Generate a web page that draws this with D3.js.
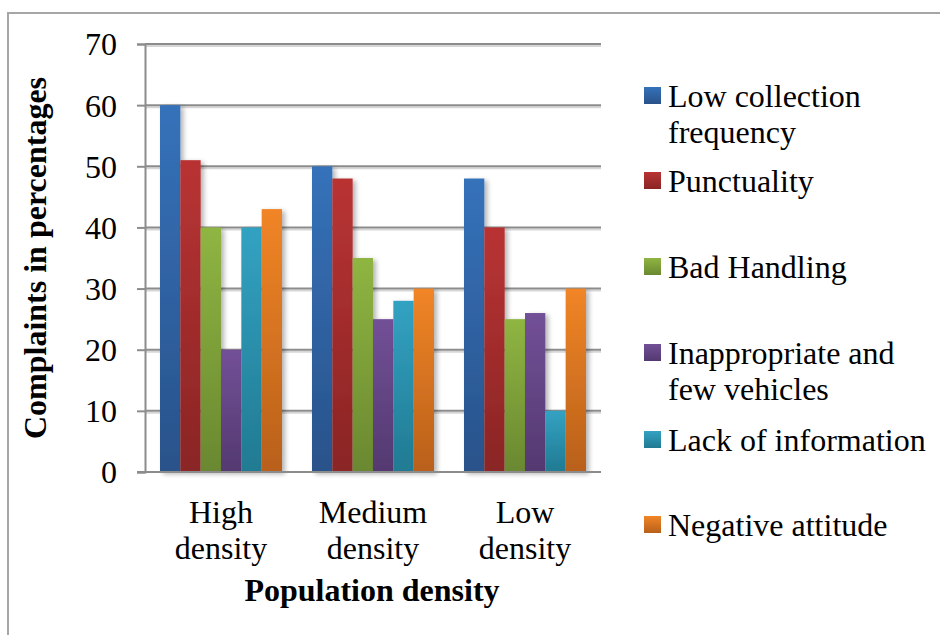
<!DOCTYPE html>
<html>
<head>
<meta charset="utf-8">
<script src="https://cdn.jsdelivr.net/npm/d3@7"></script>
<style>
  html, body { margin: 0; padding: 0; background: #fff; }
  svg { display: block; }
</style>
</head>
<body>
<svg id="chart" width="940" height="635"></svg>
<script>
// Complaint shares (%) by population density
const categories = [["High", "density"], ["Medium", "density"], ["Low", "density"]];
const seriesNames = [
  ["Low collection", "frequency"],
  ["Punctuality"],
  ["Bad Handling"],
  ["Inappropriate and", "few vehicles"],
  ["Lack of information"],
  ["Negative attitude"]
];
const lowCollection = [60, 50, 48];
const punctuality = [51, 48, 40];
const badHandling = [40, 35, 25];
const inappropriateVehicles = [20, 25, 26];
const lackOfInformation = [40, 28, 10];
const negativeAttitude = [43, 30, 30];
const yTicks = [0, 10, 20, 30, 40, 50, 60, 70];

const seriesValues = [lowCollection, punctuality, badHandling, inappropriateVehicles, lackOfInformation, negativeAttitude];
const colors = [
  ["#3572ba", "#29528a"],
  ["#b93333", "#8a2525"],
  ["#8fb542", "#6a8830"],
  ["#725097", "#533970"],
  ["#33a2c2", "#217a92"],
  ["#f18526", "#b8601b"]
];
const FONT = "Liberation Serif";
const FS = 32;

const svg = d3.select("#chart");
const defs = svg.append("defs");

colors.forEach((c, i) => {
  const g = defs.append("linearGradient").attr("id", "grad" + i)
    .attr("x1", 0).attr("y1", 0).attr("x2", 0).attr("y2", 1);
  g.append("stop").attr("offset", "0%").attr("stop-color", c[0]);
  g.append("stop").attr("offset", "100%").attr("stop-color", c[1]);
});

const shadow = defs.append("filter").attr("id", "shadow")
  .attr("x", "-20%").attr("y", "-5%").attr("width", "160%").attr("height", "115%");
shadow.append("feGaussianBlur").attr("in", "SourceAlpha").attr("stdDeviation", 2.5).attr("result", "b");
shadow.append("feOffset").attr("in", "b").attr("dx", 3).attr("dy", 2).attr("result", "o");
shadow.append("feComponentTransfer").attr("in", "o").attr("result", "s")
  .append("feFuncA").attr("type", "linear").attr("slope", 0.3);
const merge = shadow.append("feMerge");
merge.append("feMergeNode").attr("in", "s");
merge.append("feMergeNode").attr("in", "SourceGraphic");

// Outer frame
svg.append("path")
  .attr("d", "M8,640 L8,13 L945,13")
  .attr("fill", "none").attr("stroke", "#a6a6a6").attr("stroke-width", 2);

const plot = { left: 145, right: 601, top: 44, bottom: 472 };

const y = d3.scaleLinear().domain([0, 70]).range([plot.bottom, plot.top]);
const x0 = d3.scaleBand().domain(d3.range(categories.length)).range([plot.left, plot.right]).paddingInner(0).paddingOuter(0);
const x1 = d3.scaleBand().domain(d3.range(seriesNames.length)).range([15, x0.bandwidth() - 15]).padding(0);

// Gridlines
const grid = svg.append("g");
yTicks.filter(t => t > 0).forEach(t => {
  grid.append("line").attr("x1", plot.left).attr("x2", plot.right)
    .attr("y1", y(t) + 2).attr("y2", y(t) + 2)
    .attr("stroke", "#d6d6d6").attr("stroke-width", 2);
  grid.append("line").attr("x1", plot.left).attr("x2", plot.right)
    .attr("y1", y(t)).attr("y2", y(t))
    .attr("stroke", "#8c8c8c").attr("stroke-width", 2);
});

// Y axis
const yAxis = d3.axisLeft(y).tickValues(yTicks).tickSize(8).tickPadding(20).tickFormat(d3.format("d"));
const yg = svg.append("g").attr("transform", `translate(${plot.left},0)`).call(yAxis)
  .attr("font-family", FONT).attr("font-size", FS);
yg.select(".domain").attr("stroke", "#8c8c8c").attr("stroke-width", 2);
yg.selectAll(".tick line").attr("stroke", "#8c8c8c").attr("stroke-width", 2);
yg.selectAll(".tick text").attr("font-size", FS).attr("font-family", FONT).attr("fill", "#000").attr("dy", "0.34em");

// Bars
const groups = svg.append("g").selectAll("g")
  .data(categories).join("g")
  .attr("transform", (d, i) => `translate(${x0(i)},0)`);

groups.selectAll("rect")
  .data((d, ci) => seriesValues.map((vals, si) => ({ si, v: vals[ci] })))
  .join("rect")
  .attr("x", d => x1(d.si))
  .attr("width", x1.bandwidth())
  .attr("y", d => y(d.v))
  .attr("height", d => plot.bottom - y(d.v))
  .attr("fill", d => `url(#grad${d.si})`)
  .attr("filter", "url(#shadow)");

// X baseline
svg.append("line").attr("x1", plot.left - 8).attr("x2", plot.right)
  .attr("y1", plot.bottom).attr("y2", plot.bottom)
  .attr("stroke", "#8c8c8c").attr("stroke-width", 2);

// Category labels
const xl = svg.append("g");
categories.forEach((lines, i) => {
  const cx = x0(i) + x0.bandwidth() / 2;
  const t = xl.append("text").attr("x", cx).attr("y", 523)
    .attr("text-anchor", "middle").attr("font-size", FS).attr("font-family", FONT).attr("fill", "#000");
  lines.forEach((ln, j) => t.append("tspan").attr("x", cx).attr("dy", j === 0 ? 0 : 36).text(ln));
});

// Axis titles
svg.append("text").attr("x", (plot.left + plot.right) / 2 - 1).attr("y", 601)
  .attr("text-anchor", "middle").attr("font-size", FS).attr("font-weight", "bold")
  .attr("font-family", FONT).attr("fill", "#000")
  .text("Population density");

svg.append("text").attr("transform", `translate(46,${(plot.top + plot.bottom) / 2}) rotate(-90)`)
  .attr("text-anchor", "middle").attr("font-size", FS).attr("font-weight", "bold")
  .attr("font-family", FONT).attr("fill", "#000")
  .text("Complaints in percentages");

// Legend
const legendBase = [107, 192, 278, 364, 451, 536];
const legend = svg.append("g");
seriesNames.forEach((lines, i) => {
  legend.append("rect").attr("x", 644).attr("y", legendBase[i] - 20).attr("width", 17).attr("height", 17)
    .attr("fill", `url(#grad${i})`);
  const t = legend.append("text").attr("x", 668).attr("y", legendBase[i])
    .attr("font-size", FS).attr("font-family", FONT).attr("fill", "#000");
  lines.forEach((ln, j) => t.append("tspan").attr("x", 668).attr("dy", j === 0 ? 0 : 36).text(ln));
});
</script>
</body>
</html>
